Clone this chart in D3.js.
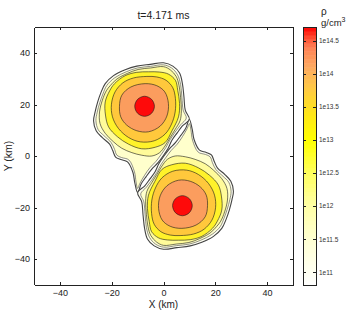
<!DOCTYPE html>
<html lang="en">
<head>
<meta charset="UTF-8">
<title>Density contours t=4.171 ms</title>
<script src="https://d3js.org/d3.v7.min.js"></script>
<style>
  body { margin: 0; background: #fff; }
  svg { display: block; font-family: "Liberation Sans", Arial, Helvetica, sans-serif; }
  .axis path, .axis line { stroke: #222; shape-rendering: crispEdges; }
  .axis text { fill: #222; font-size: 9px; font-family: "Liberation Sans", Arial, sans-serif; }
  .cb text { font-size: 6.5px; fill: #333; }
</style>
</head>
<body>
<svg id="chart" width="352" height="311"></svg>
<script>
// ---- data (km), contour outlines ----
const xTicks = [-40, -20, 0, 20, 40];
const yTicks = [-40, -20, 0, 20, 40];
const cbTicks = [11, 11.5, 12, 12.5, 13, 13.5, 14, 14.5];   // log10 rho
const levels = [11, 12, 12.5, 13, 13.5, 14, 14.5];

// upper star
const upper11 = [[-19.3,31.2],[-14.8,33.5],[-10.3,34.9],[-5.1,35.6],[0,36.2],[3.6,34.9],[6.2,32.2],[7.3,28.1],[7.9,22.9],[8.4,17.8],[10.0,14.2],[7.3,11.7],[5.3,9.0],[3.3,6.2],[1.8,3.0],[-0.1,0.1],[-2.2,-2.7],[-4.6,-5.2],[-6.7,-8.0],[-8.6,-10.8],[-10.0,-14.2],[-11.1,-10.3],[-11.8,-6.4],[-13.9,-2.3],[-16.5,-1.4],[-18.5,-0.4],[-19.6,2.1],[-20.8,4.6],[-23.7,7.2],[-26.0,9.8],[-27.0,13.7],[-26.4,17.1],[-25.4,21.0],[-24.2,24.5],[-22.5,28.1]];
const upper12 = [[-18.8,30.4],[-14.4,32.7],[-10.0,34.2],[-5.1,34.8],[0,35.4],[3.1,34.2],[5.4,31.6],[6.6,27.8],[7.1,22.9],[7.6,17.8],[8.8,14.7],[6.6,12.1],[4.5,9.3],[2.6,6.4],[1.0,3.4],[-0.9,0.6],[-3.0,-2.2],[-5.3,-4.6],[-7.3,-7.5],[-9.1,-10.6],[-10.0,-12.6],[-10.6,-10.1],[-11.2,-6.2],[-13.4,-1.5],[-16.2,-0.6],[-18.0,0.3],[-18.9,2.6],[-20.2,5.2],[-23.0,7.9],[-25.2,10.2],[-26.1,13.7],[-25.6,17.0],[-24.6,20.7],[-23.4,24.1],[-21.9,27.4]];
const upper12_5 = [[-18.0,29.9],[-13.9,32.1],[-9.8,33.6],[-4.9,34.2],[0,34.7],[2.7,33.4],[4.9,30.9],[6.0,27.4],[6.6,22.7],[6.9,17.5],[6.4,13.7],[4.5,10.3],[2.6,7.2],[0.6,3.9],[-1.5,1.3],[-4.5,0],[-8.4,0.3],[-12.2,1.3],[-16.1,3.0],[-19.3,5.5],[-22.5,8.8],[-24.5,12.6],[-24.7,17.1],[-23.6,21.7],[-22.1,25.3],[-20.6,27.3]];
const upper13 = [[-18.9,28.1],[-14.8,31.2],[-10.3,32.5],[-5.8,32.7],[-1.5,32.6],[1.9,31.8],[4.6,29.4],[5.5,25.5],[6.2,20.4],[5.8,15.2],[3.3,9.8],[0.6,5.2],[-3.2,3.4],[-8.4,2.8],[-13.5,4.6],[-17.8,7.5],[-21.2,11.3],[-22.4,15.9],[-22.5,21.0],[-20.8,25.3]];
const upper13_5 = [[-11.6,30.3],[-6.4,30.9],[-2.6,30.7],[1.0,29.4],[3.6,26.5],[4.6,22.3],[4.5,17.1],[3.1,12.4],[0.6,8.5],[-3.6,5.9],[-9.0,5.5],[-13.5,7.2],[-17.4,10.7],[-19.7,15.2],[-20.1,20.1],[-18.7,24.9],[-15.7,28.4]];
const upper14 = [[-7.1,28.1],[-2.6,27.3],[0.5,24.9],[1.9,20.4],[1.3,15.5],[-1.3,11.6],[-5.8,9.4],[-10.3,9.8],[-14.2,12.0],[-16.5,15.2],[-17.0,19.3],[-16.1,23.6],[-12.6,26.8]];
const upper14_5 = [[-7.3,23.2],[-4.6,22.0],[-3.5,19.3],[-4.6,16.6],[-7.3,15.4],[-10.0,16.6],[-11.1,19.3],[-10.0,22.0]];

// lower star
const lower11 = [[19.3,-31.2],[14.8,-33.5],[10.3,-34.9],[5.1,-35.6],[0,-36.2],[-3.6,-34.9],[-6.2,-32.2],[-7.3,-28.1],[-7.9,-22.9],[-8.4,-17.8],[-10.0,-14.2],[-7.3,-11.7],[-5.3,-9.0],[-3.3,-6.2],[-1.8,-3.0],[0.1,-0.1],[2.2,2.7],[4.6,5.2],[6.7,8.0],[8.6,10.8],[10.0,14.2],[11.1,10.3],[11.8,6.4],[13.9,2.3],[16.5,1.4],[18.5,0.4],[19.6,-2.1],[20.8,-4.6],[23.7,-7.2],[26.0,-9.8],[27.0,-13.7],[26.4,-17.1],[25.4,-21.0],[24.2,-24.5],[22.5,-28.1]];
const lower12 = [[18.8,-30.4],[14.4,-32.7],[10.0,-34.2],[5.1,-34.8],[0,-35.4],[-3.1,-34.2],[-5.4,-31.6],[-6.6,-27.8],[-7.1,-22.9],[-7.6,-17.8],[-8.8,-14.7],[-6.6,-12.1],[-4.5,-9.3],[-2.6,-6.4],[-1.0,-3.4],[0.9,-0.6],[3.0,2.2],[5.3,4.6],[7.3,7.5],[9.1,10.6],[10.0,12.6],[10.6,10.1],[11.2,6.2],[13.4,1.5],[16.2,0.6],[18.0,-0.3],[18.9,-2.6],[20.2,-5.2],[23.0,-7.9],[25.2,-10.2],[26.1,-13.7],[25.6,-17.0],[24.6,-20.7],[23.4,-24.1],[21.9,-27.4]];
const lower12_5 = [[18.0,-29.9],[13.9,-32.1],[9.8,-33.6],[4.9,-34.2],[0,-34.7],[-2.7,-33.4],[-4.9,-30.9],[-6.0,-27.4],[-6.6,-22.7],[-6.9,-17.5],[-6.4,-13.7],[-4.5,-10.3],[-2.6,-7.2],[-0.6,-3.9],[1.5,-1.3],[4.5,0],[8.4,-0.3],[12.2,-1.3],[16.1,-3.0],[19.3,-5.5],[22.5,-8.8],[24.5,-12.6],[24.7,-17.1],[23.6,-21.7],[22.1,-25.3],[20.6,-27.3]];
const lower13 = [[18.9,-28.1],[14.8,-31.2],[10.3,-32.5],[5.8,-32.7],[1.5,-32.6],[-1.9,-31.8],[-4.6,-29.4],[-5.5,-25.5],[-6.2,-20.4],[-5.8,-15.2],[-3.3,-9.8],[-0.6,-5.2],[3.2,-3.4],[8.4,-2.8],[13.5,-4.6],[17.8,-7.5],[21.2,-11.3],[22.4,-15.9],[22.5,-21.0],[20.8,-25.3]];
const lower13_5 = [[11.6,-30.3],[6.4,-30.9],[2.6,-30.7],[-1.0,-29.4],[-3.6,-26.5],[-4.6,-22.3],[-4.5,-17.1],[-3.1,-12.4],[-0.6,-8.5],[3.6,-5.9],[9.0,-5.5],[13.5,-7.2],[17.4,-10.7],[19.7,-15.2],[20.1,-20.1],[18.7,-24.9],[15.7,-28.4]];
const lower14 = [[7.1,-28.1],[2.6,-27.3],[-0.5,-24.9],[-1.9,-20.4],[-1.3,-15.5],[1.3,-11.6],[5.8,-9.4],[10.3,-9.8],[14.2,-12.0],[16.5,-15.2],[17.0,-19.3],[16.1,-23.6],[12.6,-26.8]];
const lower14_5 = [[7.3,-23.2],[4.6,-22.0],[3.5,-19.3],[4.6,-16.6],[7.3,-15.4],[10.0,-16.6],[11.1,-19.3],[10.0,-22.0]];

// ---- layout ----
const plot = { left: 34, right: 293, top: 27.25, bottom: 284.75 };
const cb = { left: 303, right: 316, top: 27, bottom: 285 };

const svg = d3.select("#chart");

const x = d3.scaleLinear().domain([-50, 50]).range([plot.left, plot.right]);
const y = d3.scaleLinear().domain([-50, 50]).range([plot.bottom, plot.top]);

// fill of each filled level
const fillColor = d3.scaleOrdinal()
    .domain(levels)
    .range(["#fffff2", "#ffffcc", "#fffb9a", "#fff22a", "#ffc83c", "#fb9d5e", "#fe0a0a"]);

// colour bar map
const cbColor = d3.scaleLinear()
    .domain([10.8, 11.5, 12.0, 12.5, 13.0, 13.4, 13.8, 14.1, 14.4, 14.55, 14.71])
    .range(["#ffffff", "#ffffd2", "#ffffa6", "#ffff5c", "#ffff00", "#ffe61a", "#ffc846", "#fdaa60", "#ff8256", "#ff4a30", "#ff0000"]);

const contours = [
    { level: 11, pts: upper11 }, { level: 11, pts: lower11 },
    { level: 12, pts: upper12 }, { level: 12, pts: lower12 },
    { level: 12.5, pts: upper12_5 }, { level: 12.5, pts: lower12_5 },
    { level: 13, pts: upper13 }, { level: 13, pts: lower13 },
    { level: 13.5, pts: upper13_5 }, { level: 13.5, pts: lower13_5 },
    { level: 14, pts: upper14 }, { level: 14, pts: lower14 },
    { level: 14.5, pts: upper14_5 }, { level: 14.5, pts: lower14_5 }
];

const line = d3.line()
    .x(d => x(d[0]))
    .y(d => y(d[1]))
    .curve(d3.curveCatmullRomClosed.alpha(0.5));

svg.append("g")
    .selectAll("path")
    .data(contours)
    .join("path")
    .attr("d", d => line(d.pts))
    .attr("fill", d => fillColor(d.level))
    .attr("stroke", d => d.level < 12.5 ? "#444" : "#1a1a1a")
    .attr("stroke-width", d => d.level === 11 ? 1.1 : 0.6);

// ---- axes (ticks inside, box) ----
svg.append("g").attr("class", "axis")
    .attr("transform", `translate(0,${plot.bottom})`)
    .call(d3.axisBottom(x).tickValues(xTicks).tickSizeInner(-3).tickSizeOuter(0).tickPadding(4.8));

svg.append("g").attr("class", "axis")
    .attr("transform", `translate(${plot.left},0)`)
    .call(d3.axisLeft(y).tickValues(yTicks).tickSizeInner(-3).tickSizeOuter(0).tickPadding(4));

svg.append("g").attr("class", "axis")
    .attr("transform", `translate(0,${plot.top})`)
    .call(d3.axisTop(x).tickValues(xTicks).tickSizeInner(-3).tickSizeOuter(0).tickFormat(() => ""))
    .selectAll("path, line").attr("stroke", "#555");

svg.append("g").attr("class", "axis")
    .attr("transform", `translate(${plot.right},0)`)
    .call(d3.axisRight(y).tickValues(yTicks).tickSizeInner(-3).tickSizeOuter(0).tickFormat(() => ""))
    .selectAll("path, line").attr("stroke", "#555");

// titles
svg.append("text")
    .attr("x", (plot.left + plot.right) / 2).attr("y", 19)
    .attr("text-anchor", "middle")
    .attr("font-size", 10.5).attr("fill", "#222")
    .text("t=4.171 ms");

svg.append("text")
    .attr("x", (plot.left + plot.right) / 2).attr("y", 307.5)
    .attr("text-anchor", "middle")
    .attr("font-size", 10).attr("fill", "#222")
    .text("X (km)");

svg.append("text")
    .attr("transform", `translate(12,${(plot.top + plot.bottom) / 2}) rotate(-90)`)
    .attr("text-anchor", "middle")
    .attr("font-size", 10.5).attr("fill", "#222")
    .text("Y (km)");

// ---- colour bar ----
const cbY = d3.scaleLinear().domain([10.803, 14.707]).range([cb.bottom, cb.top]);
const nBands = 64;
const bandStep = (cbY.domain()[1] - cbY.domain()[0]) / nBands;
const bands = d3.range(nBands).map(i => cbY.domain()[0] + i * bandStep);

svg.append("g")
    .selectAll("rect")
    .data(bands)
    .join("rect")
    .attr("x", cb.left)
    .attr("width", cb.right - cb.left)
    .attr("y", d => cbY(d + bandStep))
    .attr("height", d => cbY(d) - cbY(d + bandStep) + 0.5)
    .attr("fill", d => cbColor(d + bandStep / 2));

svg.append("rect")
    .attr("x", cb.left).attr("y", cb.top)
    .attr("width", cb.right - cb.left).attr("height", cb.bottom - cb.top)
    .attr("fill", "none").attr("stroke", "#222").attr("stroke-width", 1)
    .attr("shape-rendering", "crispEdges");

svg.append("g").attr("class", "axis cb")
    .attr("transform", `translate(${cb.right},0)`)
    .call(d3.axisRight(cbY).tickValues(cbTicks).tickSizeInner(-3).tickSizeOuter(0).tickPadding(3)
        .tickFormat(d => "1e" + d))
    .call(g => g.select(".domain").remove())
    .selectAll("text").attr("font-size", 6.5);

svg.append("g").attr("class", "axis cb")
    .attr("transform", `translate(${cb.left},0)`)
    .call(d3.axisLeft(cbY).tickValues(cbTicks).tickSizeInner(-3).tickSizeOuter(0).tickFormat(() => ""))
    .call(g => g.select(".domain").remove());

svg.append("text")
    .attr("x", 321).attr("y", 15)
    .attr("font-size", 10).attr("fill", "#222")
    .text("ρ");

const unit = svg.append("text")
    .attr("x", 321).attr("y", 25.5)
    .attr("font-size", 9.5).attr("fill", "#222");
unit.append("tspan").text("g/cm");
unit.append("tspan").attr("dy", -4).attr("font-size", 7).text("3");
</script>
</body>
</html>
